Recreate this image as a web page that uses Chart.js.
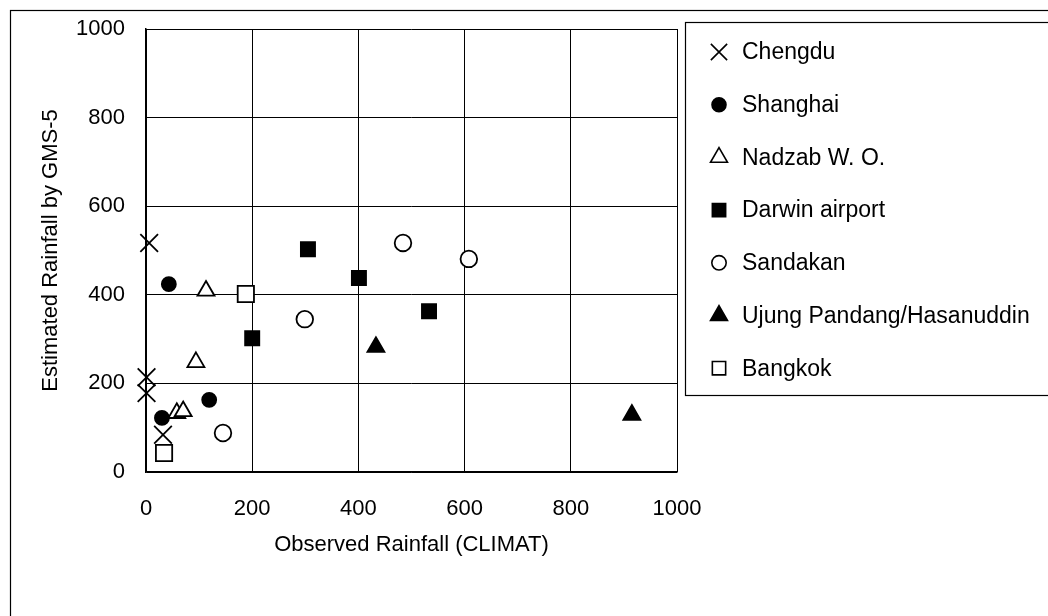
<!DOCTYPE html>
<html>
<head>
<meta charset="utf-8">
<script src="https://cdn.jsdelivr.net/npm/chart.js@4.4.1/dist/chart.umd.min.js"></script>
<style>
  body { margin: 0; background: #fff; }
  canvas { display: block; }
</style>
</head>
<body>
<canvas id="myChart" width="1048" height="616"></canvas>
<script>
// stations
var stations = ['Chengdu', 'Shanghai', 'Nadzab W. O.', 'Darwin airport', 'Sandakan', 'Ujung Pandang/Hasanuddin', 'Bangkok'];

// observed (x) and estimated (y) rainfall per station
var chengduX = [6, 1, 1, 32];
var chengduY = [517, 214, 178, 84];
var shanghaiX = [43, 30, 119];
var shanghaiY = [424, 122, 163];
var nadzabX = [113, 94, 58, 70];
var nadzabY = [409, 248, 133, 137];
var darwinX = [305, 200, 401, 533];
var darwinY = [503, 302, 438, 363];
var sandakanX = [484, 608, 299, 145];
var sandakanY = [517, 481, 345, 88];
var ujungX = [433, 915];
var ujungY = [282, 129];
var bangkokX = [188, 34];
var bangkokY = [402, 43];

var tickValues = [0, 200, 400, 600, 800, 1000];

function pts(xs, ys) {
    var out = [];
    for (var i = 0; i < xs.length; i++) {
        out.push({ x: xs[i], y: ys[i] });
    }
    return out;
}

// marker looks: style, radius on plot, radius in legend, filled or open
var markers = [
    { style: 'crossRot', r: 12.5, lr: 11.5, fill: '#000' },
    { style: 'circle', r: 7, lr: 7, fill: '#000' },
    { style: 'triangle', r: 9.8, lr: 9.8, fill: '#fff' },
    { style: 'rect', r: 10, lr: 9.4, fill: '#000' },
    { style: 'circle', r: 8.3, lr: 7.2, fill: '#fff' },
    { style: 'triangle', r: 9.8, lr: 9.8, fill: '#000' },
    { style: 'rect', r: 11.5, lr: 9.4, fill: '#fff' }
];

var values = [
    pts(chengduX, chengduY),
    pts(shanghaiX, shanghaiY),
    pts(nadzabX, nadzabY),
    pts(darwinX, darwinY),
    pts(sandakanX, sandakanY),
    pts(ujungX, ujungY),
    pts(bangkokX, bangkokY)
];

var datasets = [];
for (var i = 0; i < stations.length; i++) {
    datasets.push({
        label: stations[i],
        data: values[i],
        pointStyle: markers[i].style,
        pointRadius: markers[i].r,
        pointHoverRadius: markers[i].r,
        pointBackgroundColor: markers[i].fill,
        pointBorderColor: '#000',
        pointBorderWidth: 1.8,
        showLine: false,
        clip: false
    });
}

var FONT = 'Liberation Sans, Arial, sans-serif';

// outer frame + boxed legend on the right
var framePlugin = {
    id: 'frame',
    beforeDraw: function(chart) {
        var ctx = chart.ctx;
        ctx.save();
        ctx.fillStyle = '#fff';
        ctx.fillRect(0, 0, chart.width, chart.height);
        ctx.strokeStyle = '#000';
        ctx.lineWidth = 1.2;
        ctx.strokeRect(10.5, 10.5, 1200, 800);
        ctx.restore();
    },
    afterDraw: function(chart) {
        var ctx = chart.ctx;
        ctx.save();
        ctx.fillStyle = '#fff';
        ctx.fillRect(685.5, 22.5, 400, 373);
        ctx.strokeStyle = '#000';
        ctx.lineWidth = 1.2;
        ctx.strokeRect(685.5, 22.5, 400, 373);

        var top = 52, step = 52.7;
        ctx.font = '23px ' + FONT;
        ctx.textBaseline = 'middle';
        ctx.textAlign = 'left';
        chart.data.datasets.forEach(function(ds, k) {
            var y = top + k * step;
            ctx.fillStyle = markers[k].fill;
            ctx.strokeStyle = '#000';
            ctx.lineWidth = 1.6;
            Chart.helpers.drawPoint(ctx, {
                pointStyle: markers[k].style,
                radius: markers[k].lr,
                rotation: 0,
                borderWidth: 1.6
            }, 719, y);
            ctx.fillStyle = '#000';
            ctx.fillText(ds.label, 742, y + 1);
        });
        ctx.restore();
    }
};

var ctx = document.getElementById('myChart').getContext('2d');
var chart = new Chart(ctx, {
    type: 'scatter',
    data: { datasets: datasets },
    plugins: [framePlugin],
    options: {
        responsive: false,
        animation: false,
        devicePixelRatio: 1,
        layout: { padding: { left: 10, top: 29, right: 371, bottom: 0 } },
        plugins: {
            legend: { display: false },
            tooltip: { enabled: false }
        },
        scales: {
            x: {
                type: 'linear',
                min: 0,
                max: 1000,
                afterFit: function(scale) { scale.height = 144; },
                afterBuildTicks: function(scale) {
                    scale.ticks = tickValues.map(function(v) { return { value: v }; });
                },
                grid: { color: '#000', lineWidth: 1, drawTicks: false },
                border: { color: '#000', width: 1.5 },
                ticks: {
                    color: '#000', padding: 24, maxRotation: 0,
                    font: { family: FONT, size: 22 },
                    callback: function(v) { return String(v); }
                },
                title: {
                    display: true,
                    text: 'Observed Rainfall (CLIMAT)',
                    color: '#000',
                    font: { family: FONT, size: 22 },
                    padding: { top: 0, bottom: 58 }
                }
            },
            y: {
                type: 'linear',
                min: 0,
                max: 1000,
                afterFit: function(scale) {
                    scale.width = 136;
                    // tick padding would otherwise push the plot top down
                    scale.paddingTop = 0;
                    scale.paddingBottom = 0;
                },
                afterBuildTicks: function(scale) {
                    scale.ticks = tickValues.map(function(v) { return { value: v }; });
                },
                grid: { color: '#000', lineWidth: 1, drawTicks: false },
                border: { color: '#000', width: 1.5 },
                ticks: {
                    color: '#000', padding: 21,
                    font: { family: FONT, size: 22 },
                    callback: function(v) { return String(v); }
                },
                title: {
                    display: true,
                    text: 'Estimated Rainfall by GMS-5',
                    color: '#000',
                    font: { family: FONT, size: 22 },
                    padding: { top: 28, bottom: 0 }
                }
            }
        }
    }
});
</script>
</body>
</html>
